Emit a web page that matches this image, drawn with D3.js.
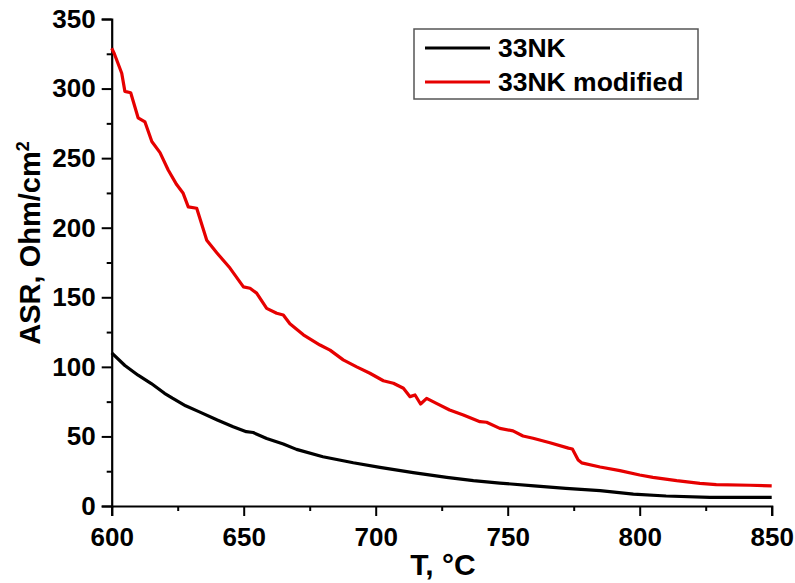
<!DOCTYPE html>
<html>
<head>
<meta charset="utf-8">
<script src="https://cdn.jsdelivr.net/npm/d3@7"></script>
<style>
  html, body { margin: 0; padding: 0; background: #fff; }
  svg { display: block; }
  text { font-family: "Liberation Sans", Arial, sans-serif; font-weight: bold; fill: #000; }
</style>
</head>
<body>
<svg id="chart" width="795" height="583"></svg>
<script>
// Temperature (°C) and area-specific resistance (Ohm/cm²) for each sample
const seriesNames = ["33NK", "33NK modified"];
const seriesColors = ["#000000", "#e60000"];

const tBase = [600, 605, 610, 615, 620, 623, 628, 633, 640, 646, 651, 653.6, 658.7, 665, 670, 680, 691.5, 701.6, 714.2, 726.9, 737, 747, 760, 772, 785, 797.6, 810, 826.6, 850];
const asrBase = [110, 101, 94, 88, 81, 77.5, 72, 67.8, 61.8, 57, 53.4, 52.8, 48.5, 44.5, 40.7, 35.4, 31.1, 27.8, 24, 20.6, 18.2, 16.5, 14.4, 12.7, 11, 8.6, 7.2, 6.2, 6.2];

const tMod = [600, 601, 603.8, 605, 607.2, 610, 612.6, 615.2, 618.3, 621.4, 624.6, 627, 629, 632.2, 636, 639.8, 644.8, 649.9, 652.4, 654.9, 658.7, 662.5, 665, 667.5, 672.6, 678.9, 682.7, 687.7, 692.8, 697.8, 702.9, 706.7, 710.5, 713, 714.9, 717, 719.3, 723, 728, 733.2, 739.5, 742, 747, 752, 755.8, 759.6, 766, 773, 774.5, 776.7, 778, 785, 792.5, 800, 805, 814, 822.8, 829, 841.8, 850];
const asrMod = [329, 325, 311, 298, 297, 279, 276, 262, 254, 241.5, 231, 225, 215, 214, 191, 182, 171, 157.5, 156.5, 153, 142, 138.5, 137.3, 131, 123, 115.7, 112, 105, 100, 95.4, 90, 88.2, 84.6, 78.6, 79.8, 73.3, 77.4, 73.8, 69, 65.4, 60.6, 60.2, 55.8, 54, 50.3, 48.7, 45.5, 41.6, 41, 33, 31, 28, 25.4, 22.3, 20.6, 18.2, 16.3, 15.3, 14.9, 14.4];

const xTicks = [600, 650, 700, 750, 800, 850];
const yTicks = [0, 50, 100, 150, 200, 250, 300, 350];
const xLabel = "T, °C";

const svg = d3.select("#chart");
const plotLeft = 111.7, plotRight = 771.7, plotTop = 19, plotBottom = 506;

const x = d3.scaleLinear().domain([600, 850]).range([plotLeft, plotRight]);
const y = d3.scaleLinear().domain([0, 350]).range([plotBottom, plotTop]);

// Minor ticks halfway between the labelled ones
const xMinor = d3.range(625, 850, 50);
const yMinor = d3.range(25, 350, 50);

const gx = svg.append("g").attr("transform", `translate(0,${plotBottom})`);
gx.call(d3.axisBottom(x).tickValues(xMinor).tickSize(5).tickFormat(""));
gx.call(g => g.selectAll(".domain").remove());
const gx2 = svg.append("g").attr("transform", `translate(0,${plotBottom})`)
  .call(d3.axisBottom(x).tickValues(xTicks).tickSize(10).tickPadding(6).tickFormat(d3.format("d")));

const gy = svg.append("g").attr("transform", `translate(${plotLeft},0)`);
gy.call(d3.axisLeft(y).tickValues(yMinor).tickSize(5).tickFormat(""));
gy.call(g => g.selectAll(".domain").remove());
const gy2 = svg.append("g").attr("transform", `translate(${plotLeft},0)`)
  .call(d3.axisLeft(y).tickValues(yTicks).tickSize(10).tickPadding(6).tickFormat(d3.format("d")));

svg.selectAll(".domain").attr("stroke", "#000").attr("stroke-width", 2.2);
svg.selectAll(".tick line").attr("stroke", "#000").attr("stroke-width", 2);
svg.selectAll(".tick text")
  .style("font-family", "'Liberation Sans', Arial, sans-serif")
  .style("font-weight", "bold")
  .style("font-size", "26px")
  .attr("fill", "#000");
gx2.selectAll(".tick text").attr("dy", "0.92em");

// Curves
const line = d3.line().x(d => x(d[0])).y(d => y(d[1]));
const dataBase = d3.zip(tBase, asrBase);
const dataMod = d3.zip(tMod, asrMod);

svg.append("path").datum(dataBase)
  .attr("fill", "none").attr("stroke", seriesColors[0]).attr("stroke-width", 3.2)
  .attr("stroke-linejoin", "round").attr("d", line);
svg.append("path").datum(dataMod)
  .attr("fill", "none").attr("stroke", seriesColors[1]).attr("stroke-width", 3.2)
  .attr("stroke-linejoin", "round").attr("d", line);

// Axis titles
svg.append("text")
  .attr("x", 443).attr("y", 575)
  .attr("text-anchor", "middle").style("font-size", "30px")
  .text(xLabel);

const yt = svg.append("text")
  .attr("transform", `translate(40,243) rotate(-90)`)
  .attr("text-anchor", "middle").style("font-size", "29px");
yt.append("tspan").text("ASR, Ohm/cm");
yt.append("tspan").attr("dy", "-0.6em").style("font-size", "18px").text("2");

// Legend
const lg = svg.append("g");
lg.append("rect").attr("x", 414).attr("y", 29).attr("width", 284).attr("height", 70)
  .attr("fill", "#fff").attr("stroke", "#555").attr("stroke-width", 1.5);
seriesNames.forEach((name, i) => {
  const ly = 48 + i * 34;
  lg.append("line").attr("x1", 425).attr("x2", 490).attr("y1", ly).attr("y2", ly)
    .attr("stroke", seriesColors[i]).attr("stroke-width", 3.2);
  lg.append("text").attr("x", 498).attr("y", ly + 9).style("font-size", "26.5px").text(name);
});
</script>
</body>
</html>
